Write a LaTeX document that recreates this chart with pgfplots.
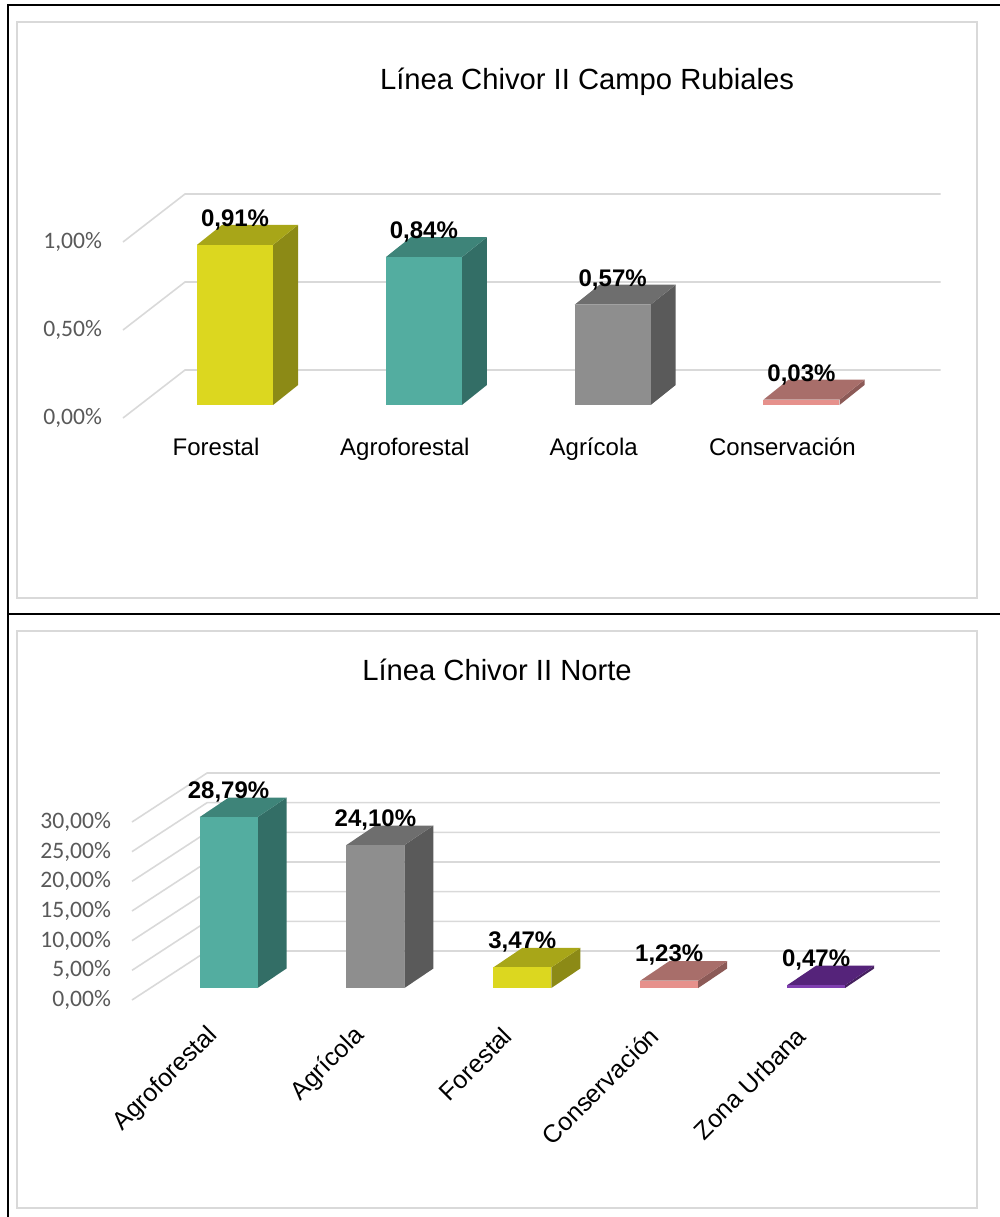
\documentclass[border=0pt]{standalone}
\usepackage{pgfplots}
\pgfplotsset{compat=1.18}
\usepackage{fontspec}
\setmainfont{Liberation Sans}
\newfontfamily\carlito{Carlito}

\definecolor{yF}{HTML}{DCD71F}
\definecolor{yS}{HTML}{8C8A16}
\definecolor{yT}{HTML}{A8A618}
\definecolor{tF}{HTML}{53ADA0}
\definecolor{tS}{HTML}{336E66}
\definecolor{tT}{HTML}{3E8479}
\definecolor{gF}{HTML}{8E8E8E}
\definecolor{gS}{HTML}{5A5A5A}
\definecolor{gT}{HTML}{6E6E6E}
\definecolor{pF}{HTML}{E6918C}
\definecolor{pS}{HTML}{8C5A57}
\definecolor{pT}{HTML}{A86E6A}
\definecolor{vF}{HTML}{7F3FB0}
\definecolor{vS}{HTML}{45205F}
\definecolor{vT}{HTML}{55237A}
\definecolor{gridc}{HTML}{D9D9D9}
\definecolor{tickc}{HTML}{595959}

\pgfplotsset{
  lbl/.style={
    nodes near coords={\pgfmathprintnumber[fixed,fixed zerofill,precision=2,use comma,assume math mode=true]{\pgfplotspointmeta}\%},
    every node near coord/.append style={anchor=center, font=\bfseries\fontsize{12}{14}\selectfont, text=black},
  },
  cubestyle/.style={
    axis line style={draw=none}, major tick length=0pt, tick style={draw=none},
    clip=false,
    yticklabel style={font=\carlito\fontsize{11.8}{14}\selectfont, text=tickc, anchor=east},
  },
}

% side and top faces first, then the front face with its label
\newcommand\cube[5]{%
  \pgfmathsetmacro\xr{#1+\hw}%
  \pgfmathsetmacro\xl{#1-\hw}%
  \pgfmathsetmacro\xrb{#1+\hw+\dX}%
  \pgfmathsetmacro\xlb{#1-\hw+\dX}%
  \pgfmathsetmacro\yt{#2+\dY}%
  \edef\cubecmd{%
    \noexpand\addplot[fill=#4,draw=none] coordinates {(\xr,0) (\xrb,\dY) (\xrb,\yt) (\xr,#2)} -- cycle;
    \noexpand\addplot[fill=#5,draw=none] coordinates {(\xl,#2) (\xr,#2) (\xrb,\yt) (\xlb,\yt)} -- cycle;
    \noexpand\addplot[front,fill=#3] coordinates {(#1,#2)};
  }\cubecmd}

\begin{document}
\begin{tikzpicture}
\begin{scope}[x=0.5pt,y=-0.5pt]
  \useasboundingbox (0,0) rectangle (1000,1217);
  \draw[line width=1.1pt] (8,1217) -- (8,5) -- (1000,5);
  \draw[line width=1.1pt] (8,614) -- (1000,614);
  \draw[gridc, line width=0.9pt] (17,22) rectangle (977,598);
  \draw[gridc, line width=0.9pt] (17,631) rectangle (977,1208);
  \node[font=\fontsize{14.6}{16}\selectfont] at (587,82) {Línea Chivor II Campo Rubiales};
  \node[font=\fontsize{14.6}{16}\selectfont] at (497,670) {Línea Chivor II Norte};
\end{scope}

% ---------- Línea Chivor II Campo Rubiales ----------
\def\hw{0.2014}\def\dX{0.1325}\def\dY{0.1136}
\begin{axis}[cubestyle,
  at={(61.5pt,-209pt)}, anchor=south west,
  x=94.4pt, y=88pt,
  xmin=-0.5936, xmax=3.737, ymin=-0.0739, ymax=1.3,
  xtick={0,1,2,3},
  xticklabels={Forestal,Agroforestal,Agrícola,Conservación},
  xticklabel style={font=\fontsize{12}{14}\selectfont, xshift=-9.5pt, yshift=-6.5pt},
  ytick={0,0.5,1},
  yticklabels={0{,}00\%,0{,}50\%,1{,}00\%},
  yticklabel style={yshift=-6.5pt, xshift=-7pt},
  front/.style={ybar, bar shift=0pt, bar width=38pt, draw=none, lbl,
    every node near coord/.append style={yshift=12.5pt}},
]
\pgfplotsinvokeforeach{0,0.5,1}{
  \draw[gridc, line width=0.8pt] (axis cs:-0.5936,#1-0.0739) -- (axis cs:-0.265,#1+0.199) -- (axis cs:3.737,#1+0.199);
}
\cube{0}{0.91}{yF}{yS}{yT}
\cube{1}{0.84}{tF}{tS}{tT}
\cube{2}{0.57}{gF}{gS}{gT}
\cube{3}{0.03}{pF}{pS}{pT}
\end{axis}

% ---------- Línea Chivor II Norte ----------
\def\hw{0.1974}\def\dX{0.1974}\def\dY{3.29}
\begin{axis}[cubestyle,
  at={(66pt,-500pt)}, anchor=south west,
  x=73.45pt, y=2.9667pt,
  xmin=-0.657, xmax=4.843, ymin=-2.02, ymax=40,
  xtick={0,1,2,3,4},
  xticklabels={Agroforestal,Agrícola,Forestal,Conservación,Zona Urbana},
  xticklabel style={font=\fontsize{12.5}{14}\selectfont, rotate=45, anchor=east, xshift=-13pt, yshift=-6pt},
  ytick={0,5,...,30},
  yticklabels={0{,}00\%,5{,}00\%,10{,}00\%,15{,}00\%,20{,}00\%,25{,}00\%,30{,}00\%},
  yticklabel style={yshift=-6pt, xshift=-7pt},
  front/.style={ybar, bar shift=0pt, bar width=29pt, draw=none, lbl,
    every node near coord/.append style={yshift=12.7pt}},
]
\pgfplotsinvokeforeach{0,5,...,30}{
  \draw[gridc, line width=0.8pt] (axis cs:-0.657,#1-2.02) -- (axis cs:-0.146,#1+6.236) -- (axis cs:4.843,#1+6.236);
}
\cube{0}{28.79}{tF}{tS}{tT}
\cube{1}{24.10}{gF}{gS}{gT}
\cube{2}{3.47}{yF}{yS}{yT}
\cube{3}{1.23}{pF}{pS}{pT}
\cube{4}{0.47}{vF}{vS}{vT}
\end{axis}
\end{tikzpicture}
\end{document}
